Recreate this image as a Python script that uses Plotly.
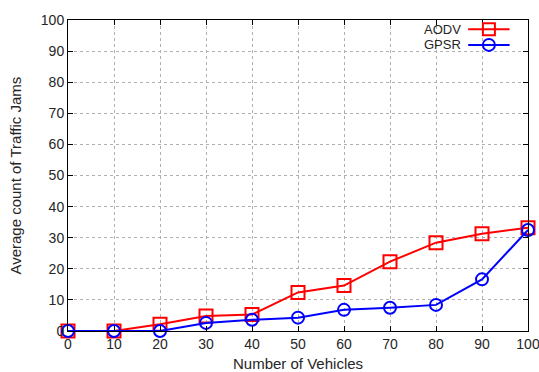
import plotly.graph_objects as go

vehicles = [0, 10, 20, 30, 40, 50, 60, 70, 80, 90, 100]
aodv = [0, 0, 2.2, 4.8, 5.3, 12.4, 14.6, 22.3, 28.4, 31.3, 33.2]
gpsr = [0, 0, 0, 2.6, 3.6, 4.3, 6.8, 7.5, 8.4, 16.6, 32.5]
x_ticks = [0, 10, 20, 30, 40, 50, 60, 70, 80, 90, 100]
y_ticks = [0, 10, 20, 30, 40, 50, 60, 70, 80, 90, 100]

FONT = "Liberation Sans, Arial, sans-serif"
TXT = "#262626"

fig = go.Figure()
fig.add_trace(go.Scatter(
    x=vehicles, y=aodv, name="AODV", mode="lines+markers",
    line=dict(color="#ff0000", width=2),
    marker=dict(symbol="square-open", size=13, color="#ff0000", line=dict(width=2)),
    cliponaxis=False, showlegend=False))
fig.add_trace(go.Scatter(
    x=vehicles, y=gpsr, name="GPSR", mode="lines+markers",
    line=dict(color="#0000ff", width=2),
    marker=dict(symbol="circle-open", size=12, color="#0000ff", line=dict(width=2)),
    cliponaxis=False, showlegend=False))

axis_common = dict(
    showgrid=True, gridcolor="#b0b0b0", griddash="dot", gridwidth=1,
    showline=True, linecolor="black", linewidth=1, mirror="ticks",
    ticks="inside", ticklen=5, tickcolor="black",
    zeroline=False, tickfont=dict(family=FONT, size=14, color=TXT),
    automargin=False, ticklabeloverflow="allow",
)

fig.update_xaxes(range=[0, 100], tickvals=x_ticks, **axis_common)
fig.update_yaxes(range=[0, 100], tickvals=y_ticks, **axis_common)

fig.add_annotation(xref="paper", yref="paper", x=0.5, y=-0.075, xanchor="center", yanchor="top",
                   text="Number of Vehicles", showarrow=False, borderpad=0,
                   font=dict(family=FONT, size=15, color=TXT))
fig.add_annotation(xref="paper", yref="paper", x=-0.115, y=0.5, xanchor="center", yanchor="middle",
                   text="Average count of Traffic Jams", textangle=-90, showarrow=False,
                   font=dict(family=FONT, size=15, color=TXT))

# custom legend (gnuplot style: text, then sample on the right)
legend_rows = [("AODV", "#ff0000", "rect", 0.97), ("GPSR", "#0000ff", "circle", 0.92)]
for name, color, shape, yp in legend_rows:
    fig.add_annotation(xref="paper", yref="paper", x=0.857, y=yp, xanchor="right", yanchor="middle",
                       text=name, showarrow=False, font=dict(family=FONT, size=13, color=TXT),
                       borderpad=0)
    fig.add_shape(type="line", xref="paper", yref="paper", x0=0.87, x1=0.96, y0=yp, y1=yp,
                  line=dict(color=color, width=2))
    cx = 0.915
    dx = 6 / 460
    dy = 6 / 311
    fig.add_shape(type=shape, xref="paper", yref="paper", x0=cx - dx, x1=cx + dx, y0=yp - dy, y1=yp + dy,
                  line=dict(color=color, width=2), fillcolor="rgba(0,0,0,0)")

fig.update_layout(
    width=539, height=372,
    margin=dict(l=68, r=11, t=20, b=41),
    plot_bgcolor="white", paper_bgcolor="white",
    font=dict(family=FONT, size=14, color=TXT),
)

fig.write_html("out.html", config={"displayModeBar": False},
               post_script="document.body.style.margin='0';document.body.style.overflow='hidden';")
